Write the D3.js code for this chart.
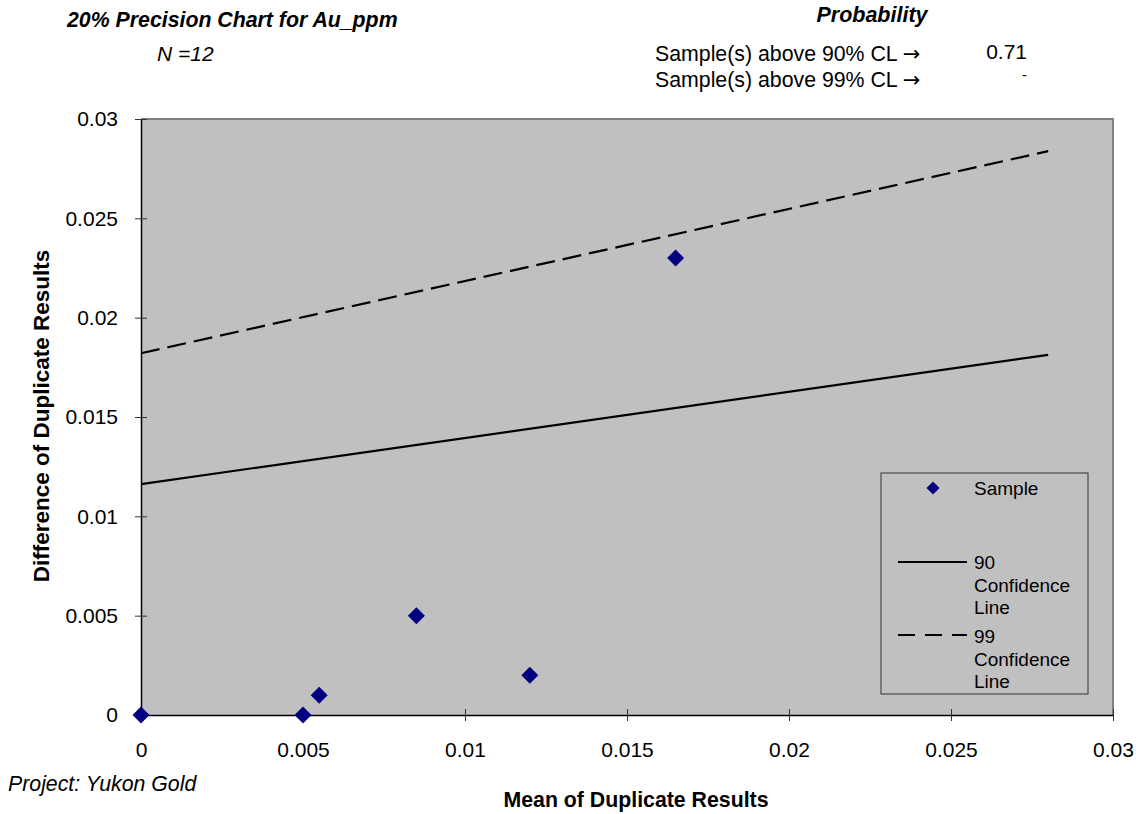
<!DOCTYPE html>
<html><head><meta charset="utf-8">
<script src="https://cdn.jsdelivr.net/npm/d3@7"></script>
<style>
html,body{margin:0;padding:0;background:#fff;}
text{font-family:"Liberation Sans",Arial,sans-serif;fill:#000;}
</style></head>
<body>
<svg id="chart" width="1136" height="814"></svg>
<script>
// Data
const sampleX = [0, 0.005, 0.0055, 0.0085, 0.012, 0.0165];
const sampleY = [0, 0, 0.001, 0.005, 0.002, 0.023];
const line90X = [0, 0.028];
const line90Y = [0.01162, 0.01813];
const line99X = [0, 0.028];
const line99Y = [0.01821, 0.02838];
const xTicks = [0, 0.005, 0.01, 0.015, 0.02, 0.025, 0.03];
const yTicks = [0, 0.005, 0.01, 0.015, 0.02, 0.025, 0.03];
const legendLabels = ["Sample", ["90", "Confidence", "Line"], ["99", "Confidence", "Line"]];

const svg = d3.select("#chart");
const L = 141, R = 1113, T = 119, B = 715;
const x = d3.scaleLinear().domain([0, 0.03]).range([L, R]);
const y = d3.scaleLinear().domain([0, 0.03]).range([B, T]);

// plot background
svg.append("rect").attr("x", L).attr("y", T).attr("width", R - L).attr("height", B - T)
  .attr("fill", "#c0c0c0");
// top & right border gray
svg.append("path").attr("d", `M${L},${T}H${R}V${B}`).attr("fill", "none")
  .attr("stroke", "#808080").attr("stroke-width", 2);

// Axes
const fmt = d => d === 0 ? "0" : String(+d.toFixed(4));
const xAxis = d3.axisBottom(x).tickValues(xTicks).tickFormat(fmt).tickSizeInner(6).tickSizeOuter(0).tickPadding(28);
const gx = svg.append("g").attr("transform", `translate(0,${B})`).call(xAxis);
gx.select(".domain").attr("stroke", "#000").attr("stroke-width", 1.5);
gx.selectAll(".tick line").attr("y1", -6).attr("y2", 6).attr("stroke", "#333");
gx.selectAll(".tick text").attr("font-size", 21).attr("font-family", "Liberation Sans, Arial, sans-serif").attr("dy", "0").attr("y", 42);

const yAxis = d3.axisLeft(y).tickValues(yTicks).tickFormat(fmt).tickSizeInner(6).tickSizeOuter(0).tickPadding(16);
const gy = svg.append("g").attr("transform", `translate(${L},0)`).call(yAxis);
gy.select(".domain").attr("stroke", "#000").attr("stroke-width", 1.5);
gy.selectAll(".tick line").attr("x1", -6).attr("x2", 6).attr("stroke", "#333");
gy.selectAll(".tick text").attr("font-size", 21).attr("font-family", "Liberation Sans, Arial, sans-serif").attr("x", -23);

// Lines
const lineGen = d3.line().x(d => x(d[0])).y(d => y(d[1]));
svg.append("path").datum(line90X.map((v, i) => [v, line90Y[i]])).attr("d", lineGen)
  .attr("fill", "none").attr("stroke", "#000").attr("stroke-width", 2.2);
svg.append("path").datum(line99X.map((v, i) => [v, line99Y[i]])).attr("d", lineGen)
  .attr("fill", "none").attr("stroke", "#000").attr("stroke-width", 2.2).attr("stroke-dasharray", "19,8");

// Points
svg.selectAll("path.pt").data(sampleX.map((v, i) => [v, sampleY[i]])).enter().append("path")
  .attr("class", "pt")
  .attr("d", "M0,-8.5L8.5,0L0,8.5L-8.5,0Z")
  .attr("transform", d => `translate(${x(d[0])},${y(d[1])})`)
  .attr("fill", "#000080");

// Legend
const lg = svg.append("g");
lg.append("rect").attr("x", 881).attr("y", 473).attr("width", 207).attr("height", 221)
  .attr("fill", "#c0c0c0").attr("stroke", "#333").attr("stroke-width", 1);
lg.append("path").attr("d", "M0,-6.5L6.5,0L0,6.5L-6.5,0Z").attr("transform", "translate(933,488)").attr("fill", "#000080");
lg.append("text").attr("x", 974).attr("y", 495).attr("font-size", 19).text(legendLabels[0]);
lg.append("line").attr("x1", 898).attr("x2", 967).attr("y1", 562).attr("y2", 562).attr("stroke", "#000").attr("stroke-width", 2.2);
legendLabels[1].forEach((t, i) => lg.append("text").attr("x", 974).attr("y", 569 + i * 22.5).attr("font-size", 19).text(t));
lg.append("line").attr("x1", 898).attr("x2", 967).attr("y1", 635).attr("y2", 635).attr("stroke", "#000").attr("stroke-width", 2.2).attr("stroke-dasharray", "17,10");
legendLabels[2].forEach((t, i) => lg.append("text").attr("x", 974).attr("y", 643 + i * 22.5).attr("font-size", 19).text(t));

// Titles and annotations
svg.append("text").attr("x", 67).attr("y", 27).attr("font-size", 21.3).attr("font-weight", "bold").attr("font-style", "italic")
  .text("20% Precision Chart for Au_ppm");
svg.append("text").attr("x", 157).attr("y", 61).attr("font-size", 21).attr("font-style", "italic").text("N =12");
svg.append("text").attr("x", 872).attr("y", 22).attr("text-anchor", "middle").attr("font-size", 21.5).attr("font-weight", "bold").attr("font-style", "italic")
  .text("Probability");
const s1 = svg.append("text").attr("x", 655).attr("y", 61).attr("font-size", 21.3);
s1.append("tspan").text("Sample(s) above 90% CL ");
s1.append("tspan").attr("font-family", "DejaVu Sans").attr("font-size", 21).text("\u2192");
const s2 = svg.append("text").attr("x", 655).attr("y", 87).attr("font-size", 21.3);
s2.append("tspan").text("Sample(s) above 99% CL ");
s2.append("tspan").attr("font-family", "DejaVu Sans").attr("font-size", 21).text("\u2192");
svg.append("text").attr("x", 1027).attr("y", 59).attr("text-anchor", "end").attr("font-size", 21).text("0.71");
svg.append("text").attr("x", 1027).attr("y", 80).attr("text-anchor", "end").attr("font-size", 15).text("-");

svg.append("text").attr("x", 8).attr("y", 791).attr("font-size", 21.3).attr("font-style", "italic").text("Project: Yukon Gold");
svg.append("text").attr("x", 636).attr("y", 807).attr("text-anchor", "middle").attr("font-size", 21.3).attr("font-weight", "bold")
  .text("Mean of Duplicate Results");
svg.append("text").attr("transform", "translate(49,416) rotate(-90)").attr("text-anchor", "middle").attr("font-size", 22.5).attr("font-weight", "bold")
  .text("Difference of Duplicate Results");
</script>
</body></html>
